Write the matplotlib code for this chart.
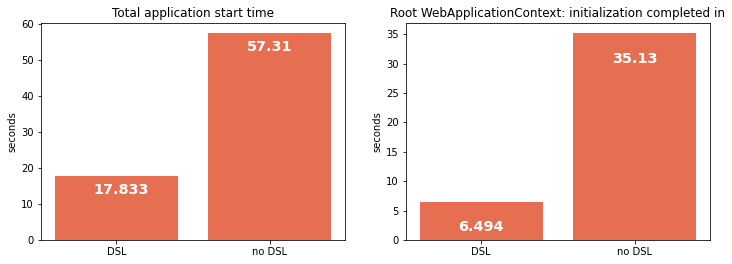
import matplotlib
matplotlib.use("Agg")
import matplotlib.pyplot as plt

categories = ["DSL", "no DSL"]
start_time = [17.833, 57.31]
context_init = [6.494, 35.13]
titles = ["Total application start time",
          "Root WebApplicationContext: initialization completed in"]

BAR_COLOR = "#e76f51"

fig, axes = plt.subplots(1, 2, figsize=(732 / 72, 264 / 72), dpi=72)
fig.subplots_adjust(left=41 / 732, right=710 / 732, bottom=24 / 264, top=241 / 264,
                    wspace=0.2)

for ax, vals, title in zip(axes, [start_time, context_init], titles):
    ax.bar(categories, vals, color=BAR_COLOR, width=0.8)
    ax.set_title(title, fontsize=12)
    ax.set_ylabel("seconds")
    # etiqueta del valor dentro de la barra
    for i, v in enumerate(vals):
        ax.text(i - 0.15, v - 5, str(v), ha="left", va="baseline",
                color="white", fontsize="x-large", fontweight="bold")

fig.savefig("out.png", dpi=72)
